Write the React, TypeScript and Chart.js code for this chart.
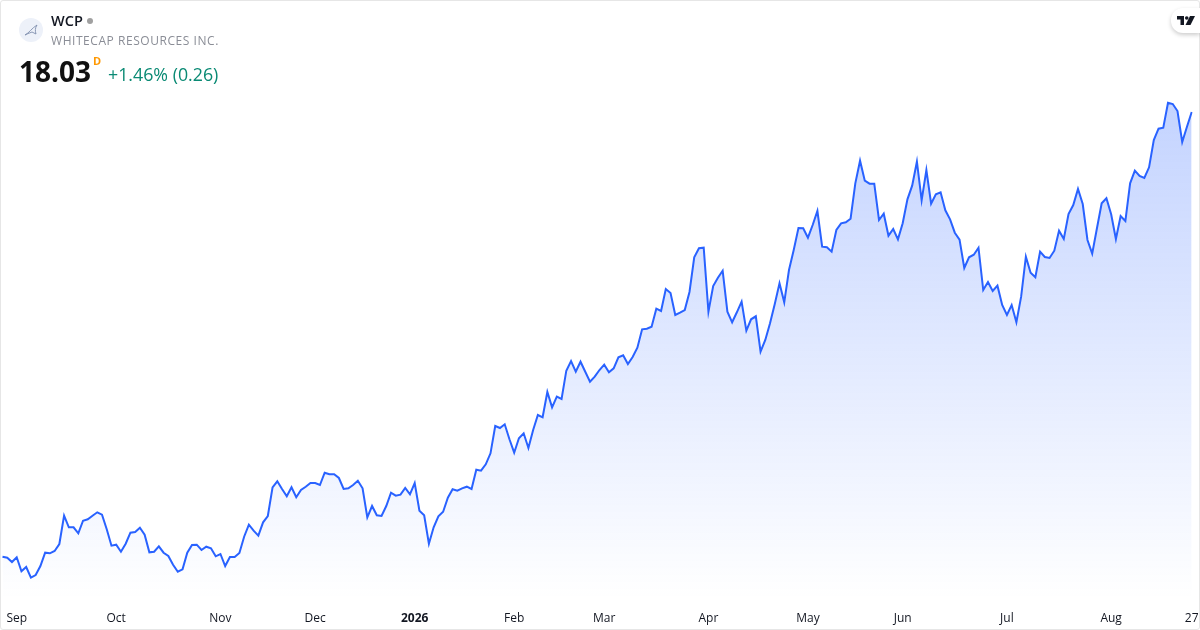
import React, { useEffect, useRef } from "react";
import { Chart, registerables } from "chart.js";

Chart.register(...registerables);

const symbol = "WCP";
const companyName = "WHITECAP RESOURCES INC.";
const lastPrice = "18.03";
const intervalCode = "D";
const changeText = "+1.46% (0.26)";

const closes = [
  13.583, 13.573, 13.53, 13.577, 13.437, 13.48, 13.373, 13.4, 13.49, 13.623, 13.617, 13.64,
  13.71, 13.993, 13.877, 13.877, 13.817, 13.943, 13.957, 13.993, 14.027, 14.003, 13.857, 13.693,
  13.703, 13.633, 13.713, 13.823, 13.83, 13.873, 13.803, 13.627, 13.633, 13.687, 13.623, 13.59,
  13.503, 13.433, 13.457, 13.623, 13.7, 13.703, 13.65, 13.683, 13.667, 13.587, 13.61, 13.49,
  13.58, 13.58, 13.62, 13.783, 13.903, 13.843, 13.793, 13.927, 13.99, 14.277, 14.337, 14.26,
  14.187, 14.277, 14.177, 14.25, 14.283, 14.32, 14.32, 14.3, 14.423, 14.407, 14.407, 14.37,
  14.26, 14.267, 14.3, 14.343, 14.267, 13.977, 14.09, 13.997, 13.99, 14.09, 14.223, 14.193,
  14.203, 14.27, 14.207, 14.32, 14.043, 13.997, 13.713, 13.877, 13.987, 14.033, 14.173, 14.257,
  14.243, 14.267, 14.283, 14.26, 14.453, 14.443, 14.507, 14.617, 14.89, 14.87, 14.907, 14.757,
  14.623, 14.767, 14.817, 14.67, 14.85, 15.0, 14.977, 15.23, 15.077, 15.183, 15.16, 15.443,
  15.54, 15.433, 15.533, 15.433, 15.333, 15.383, 15.45, 15.503, 15.427, 15.467, 15.577, 15.597,
  15.51, 15.58, 15.673, 15.857, 15.863, 15.883, 16.063, 16.04, 16.26, 16.22, 16.0, 16.023,
  16.05, 16.23, 16.577, 16.667, 16.673, 16.033, 16.29, 16.373, 16.443, 16.033, 15.927, 16.027,
  16.133, 15.843, 15.957, 15.987, 15.633, 15.75, 15.917, 16.11, 16.317, 16.127, 16.45, 16.65,
  16.87, 16.867, 16.773, 16.9, 17.04, 16.683, 16.677, 16.633, 16.85, 16.917, 16.927, 16.963,
  17.317, 17.543, 17.343, 17.313, 17.313, 16.95, 17.013, 16.793, 16.86, 16.757, 16.917, 17.157,
  17.293, 17.533, 17.147, 17.45, 17.113, 17.207, 17.227, 17.047, 16.957, 16.823, 16.753, 16.47,
  16.577, 16.603, 16.673, 16.25, 16.33, 16.24, 16.293, 16.1, 16.0, 16.1, 15.927, 16.183,
  16.583, 16.423, 16.377, 16.633, 16.58, 16.57, 16.643, 16.843, 16.76, 17.01, 17.1, 17.26,
  17.11, 16.75, 16.613, 16.867, 17.117, 17.167, 17.007, 16.76, 16.99, 16.94, 17.317, 17.443,
  17.39, 17.37, 17.477, 17.75, 17.863, 17.873, 18.123, 18.11, 18.04, 17.73, 17.883, 18.03,
];

const tickIndexes = [3, 24, 46, 66, 87, 108, 127, 149, 170, 190, 212, 234, 251];
const tickLabels = ["Sep", "Oct", "Nov", "Dec", "2026", "Feb", "Mar", "Apr", "May", "Jun", "Jul", "Aug", "27"];
const boldTick = "2026";

const FONT = '"Open Sans", sans-serif';

export default function App() {
  const ref = useRef<HTMLCanvasElement>(null);

  useEffect(() => {
    document.body.style.margin = "0";
    const chart = new Chart(ref.current!, {
      type: "line",
      data: {
        labels: closes.map((_, i) => i),
        datasets: [
          {
            data: closes,
            borderColor: "#2962ff",
            borderWidth: 2,
            pointRadius: 0,
            tension: 0,
            fill: "start",
            backgroundColor: (ctx: any) => {
              const { chart: c } = ctx;
              const area = c.chartArea;
              if (!area) return "rgba(41,98,255,0.28)";
              const topPx = c.scales.y.getPixelForValue(Math.max(...closes));
              const g = c.ctx.createLinearGradient(0, topPx, 0, area.bottom);
              g.addColorStop(0, "rgba(41,98,255,0.28)");
              g.addColorStop(1, "rgba(41,98,255,0)");
              return g;
            },
          },
        ],
      },
      options: {
        responsive: false,
        animation: false,
        layout: { padding: { left: 2.5, right: 8.3, top: 0, bottom: 0 } },
        plugins: { legend: { display: false }, tooltip: { enabled: false } },
        scales: {
          y: { display: false, min: 13.15, max: 19.15 },
          x: {
            afterBuildTicks: (s: any) => {
              s.ticks = tickIndexes.map((value) => ({ value }));
            },
            afterFit: (s: any) => {
              s.height = 30;
              s.paddingLeft = 0;
              s.paddingRight = 0;
            },
            grid: { display: false, drawTicks: false },
            border: { display: false },
            ticks: {
              autoSkip: false,
              maxRotation: 0,
              minRotation: 0,
              padding: 11,
              color: "#131722",
              callback: (v: any) => tickLabels[tickIndexes.indexOf(Number(v))],
              font: (ctx: any) => ({
                family: FONT,
                size: 12,
                weight: ctx.tick && ctx.tick.label === boldTick ? "bold" : "normal",
              }),
            },
          },
        },
      },
    } as any);
    return () => chart.destroy();
  }, []);

  const abs = (s: React.CSSProperties): React.CSSProperties => ({
    position: "absolute",
    whiteSpace: "nowrap",
    fontFamily: FONT,
    ...s,
  });

  return (
    <div style={{ position: "fixed", left: 0, top: 0, width: 1200, height: 630, background: "#fff", overflow: "hidden" }}>
      <canvas ref={ref} width={1200} height={630} style={{ position: "absolute", left: 0, top: 0, width: 1200, height: 630 }} />
      <div style={{ position: "absolute", inset: 0, border: "1px solid #e6e6e6", borderRadius: 3, boxSizing: "border-box", pointerEvents: "none" }} />
      <svg width={24} height={24} style={{ position: "absolute", left: 19, top: 18 }} viewBox="0 0 24 24">
        <circle cx={12} cy={12} r={12} fill="#edf1f9" />
        <path d="M6 17 C10 15 13 10 18 7 C16 10 16 13 17 16 L13 14 L8 16 Z" fill="none" stroke="#7f8fae" strokeWidth={0.9} />
      </svg>
      <div style={abs({ left: 51, top: 11, fontSize: 14.5, lineHeight: "20px", fontWeight: 600, color: "#131722" })}>{symbol}</div>
      <div style={abs({ left: 87, top: 18, width: 6, height: 6, borderRadius: 3, background: "#a0a0a0" })} />
      <div style={abs({ left: 51, top: 32, fontSize: 12, lineHeight: "18px", color: "#8a8d96", letterSpacing: 0.55 })}>{companyName}</div>
      <div style={abs({ left: 19, top: 52, fontSize: 28, lineHeight: "38px", fontWeight: 700, color: "#111111" })}>{lastPrice}</div>
      <div style={abs({ left: 93, top: 53, fontSize: 11, lineHeight: "16px", fontWeight: 700, color: "#ff9800" })}>{intervalCode}</div>
      <div style={abs({ left: 108, top: 62, fontSize: 17.8, lineHeight: "24px", color: "#0a8a74" })}>{changeText}</div>
      <div style={{ position: "absolute", left: 1171, top: 8, width: 29, height: 25, background: "#fff", borderRadius: "12px 0 0 12px", boxShadow: "0 2px 4px rgba(0,0,0,0.2)" }}>
        <svg width={18} height={9} viewBox="0 0 36 18" style={{ position: "absolute", left: 6, top: 7.5 }}>
          <path d="M0 0 H14 V18 H7 V7 H0 Z" fill="#131722" />
          <circle cx={19.5} cy={4} r={3.6} fill="#131722" />
          <path d="M26 0 H36 L27 18 H17 Z" fill="#131722" />
        </svg>
      </div>
    </div>
  );
}
